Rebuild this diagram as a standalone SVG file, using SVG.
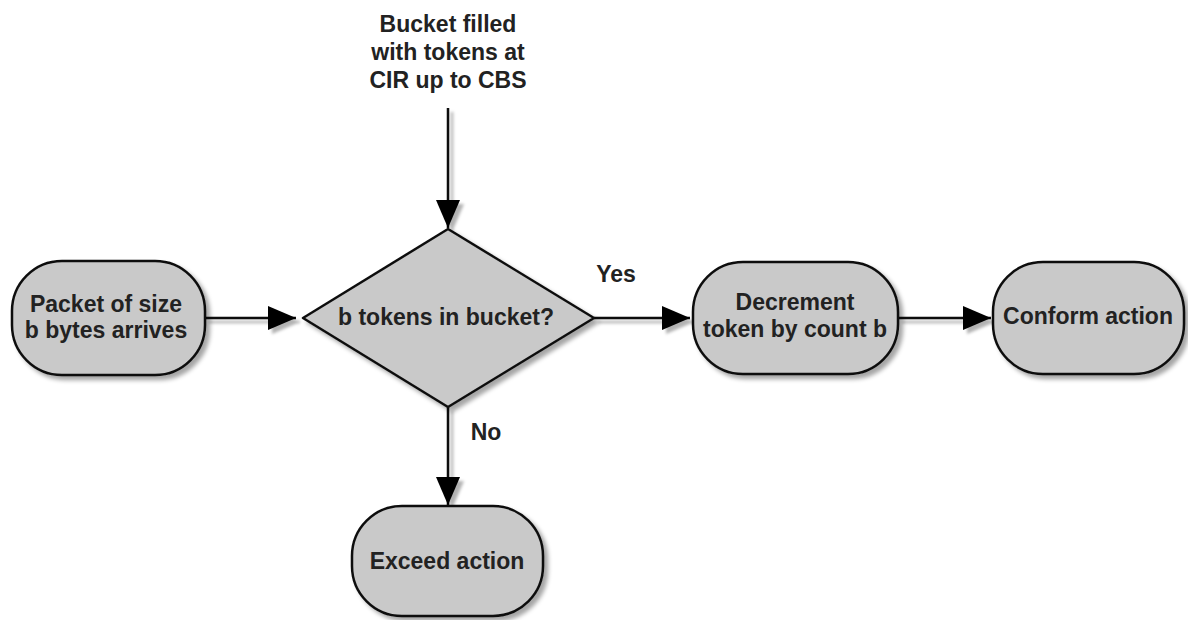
<svg xmlns="http://www.w3.org/2000/svg" width="1188" height="620" viewBox="0 0 1188 620">
  <defs>
    <filter id="shadow" x="-20%" y="-20%" width="150%" height="150%">
      <feDropShadow dx="4" dy="4" stdDeviation="2" flood-color="#000" flood-opacity="0.35"/>
    </filter>
    <filter id="line-shadow" filterUnits="userSpaceOnUse" x="0" y="0" width="1188" height="620">
      <feDropShadow dx="4" dy="4" stdDeviation="1.5" flood-color="#000" flood-opacity="0.3"/>
    </filter>
    <marker id="arrow" viewBox="0 0 28 24" refX="28" refY="12" markerWidth="28" markerHeight="24" markerUnits="userSpaceOnUse" orient="auto">
      <path d="M0,0 L28,12 L0,24 Z" fill="#000"/>
    </marker>
  </defs>
  <style>
    .shape { fill: #c9c9c9; stroke: #111; stroke-width: 2.5; filter: url(#shadow); }
    .edge { stroke: #111; stroke-width: 2.5; fill: none; marker-end: url(#arrow); }
    .label { font-family: "Liberation Sans", Arial, sans-serif; font-weight: bold; font-size: 23px; fill: #222; text-anchor: middle; }
  </style>
  <rect width="1188" height="620" fill="#fff"/>

  <g id="connectors" filter="url(#line-shadow)">
    <line class="edge" x1="448" y1="108" x2="448" y2="228"/>
    <line class="edge" x1="205" y1="318" x2="296" y2="318"/>
    <line class="edge" x1="594" y1="318" x2="690" y2="318"/>
    <line class="edge" x1="898" y1="318" x2="991" y2="318"/>
    <line class="edge" x1="448" y1="407" x2="448" y2="505"/>
  </g>

  <g id="source-note">
    <text class="label" x="448" y="32">Bucket filled</text>
    <text class="label" x="448" y="60">with tokens at</text>
    <text class="label" x="448" y="88">CIR up to CBS</text>
  </g>

  <g id="packet">
    <rect class="shape" x="12" y="261" width="193" height="114" rx="50" ry="50"/>
    <text class="label" x="106" y="312">Packet of size</text>
    <text class="label" x="106" y="338">b bytes arrives</text>
  </g>

  <g id="decision">
    <path class="shape" d="M448,229 L594,318 L448,407 L303,318 Z" stroke-linejoin="round"/>
    <text class="label" x="446" y="325">b tokens in bucket?</text>
  </g>

  <g id="yes-label">
    <text class="label" x="616" y="282">Yes</text>
  </g>

  <g id="no-label">
    <text class="label" x="486" y="440">No</text>
  </g>

  <g id="decrement">
    <rect class="shape" x="693" y="262" width="205" height="112" rx="50" ry="50"/>
    <text class="label" x="795" y="310">Decrement</text>
    <text class="label" x="795" y="337">token by count b</text>
  </g>

  <g id="conform">
    <rect class="shape" x="993" y="262" width="191" height="112" rx="50" ry="50"/>
    <text class="label" x="1088" y="324">Conform action</text>
  </g>

  <g id="exceed">
    <rect class="shape" x="352" y="506" width="191" height="110" rx="50" ry="50"/>
    <text class="label" x="447" y="569">Exceed action</text>
  </g>
</svg>
